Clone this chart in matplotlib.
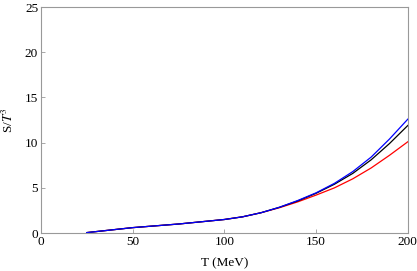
import matplotlib
matplotlib.use("Agg")
import matplotlib.pyplot as plt

plt.rcParams['font.family'] = ['Liberation Serif', 'DejaVu Serif']
plt.rcParams['mathtext.fontset'] = 'stix'

# temperature grid (MeV)
T = [25, 50, 75, 100, 110, 120, 130, 140, 150, 160, 170, 180, 190, 200]
# S/T^3 for the three curves
s_blue = [0.05, 0.6, 1.0, 1.5, 1.8, 2.25, 2.85, 3.6, 4.45, 5.5, 6.8, 8.4, 10.4, 12.6]
s_black = [0.05, 0.6, 1.0, 1.5, 1.8, 2.25, 2.85, 3.55, 4.4, 5.4, 6.6, 8.1, 9.9, 11.9]
s_red = [0.05, 0.6, 1.0, 1.5, 1.8, 2.25, 2.8, 3.45, 4.2, 5.0, 6.0, 7.2, 8.6, 10.1]

fig = plt.figure(figsize=(4.17, 2.71), dpi=100)
ax = fig.add_axes([0.098, 0.140, 0.880, 0.834])

ax.plot(T, s_red, color='red', lw=0.9)
ax.plot(T, s_black, color='black', lw=0.9)
ax.plot(T, s_blue, color='blue', lw=0.9)

ax.set_xlim(0, 200)
ax.set_ylim(0, 25)
ax.set_xticks([0, 50, 100, 150, 200])
ax.set_yticks([0, 5, 10, 15, 20, 25])
ax.tick_params(direction='in', length=3, width=0.6, color='#999999', labelsize=9.5, pad=2)
for sp in ax.spines.values():
    sp.set_color('#999999')
    sp.set_linewidth(0.8)

ax.set_xlabel('T (MeV)', fontsize=9.5, labelpad=7)
ax.set_ylabel('S/$T^3$', fontsize=9.5, labelpad=6)

fig.savefig('out.png', dpi=100)
